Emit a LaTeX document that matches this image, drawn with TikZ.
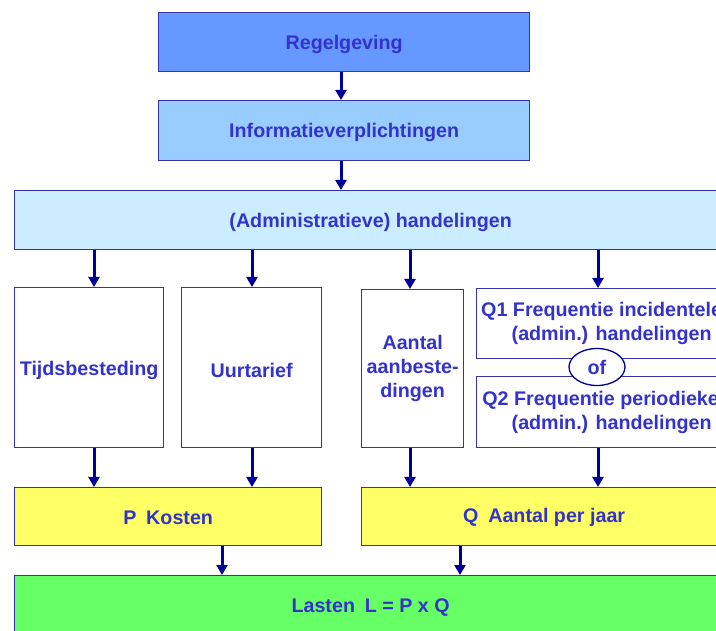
\documentclass[tikz,border=0pt]{standalone}
\usepackage{fontspec}
\setmainfont{Liberation Sans}
\usetikzlibrary{arrows.meta,shapes.geometric}
\definecolor{txtblue}{HTML}{3333CC}
\definecolor{arrblue}{HTML}{000099}
\definecolor{edgeblue}{HTML}{3333AA}
\definecolor{fillA}{HTML}{6699FF}
\definecolor{fillB}{HTML}{99CCFF}
\definecolor{fillC}{HTML}{CCECFF}
\definecolor{fillY}{HTML}{FFFF66}
\definecolor{fillG}{HTML}{66FF66}
\newcommand{\lowertxt}[2]{\raisebox{-#1}[\height][\depth]{#2}}
\tikzset{
  box/.style={draw=edgeblue, line width=1.3pt, anchor=north west, inner sep=0pt,
    text=txtblue, font=\fontsize{19.7}{24}\selectfont\bfseries, align=center},
  arr/.style={draw=arrblue, line width=3pt, -{Triangle[width=11pt,length=10pt]}},
}
\begin{document}
\begin{tikzpicture}[x=1pt,y=-1pt]
\useasboundingbox (0,0) rectangle (716,631);
\clip (0,0) rectangle (716,631);
\fill[white] (0,0) rectangle (716,631);
\node[box, fill=fillA, minimum width=371pt, minimum height=59pt] (reg) at (158,12) {\lowertxt{2pt}{Regelgeving}};
\node[box, fill=fillB, minimum width=371pt, minimum height=60pt] (inf) at (158,100) {\lowertxt{2pt}{Informatieverplichtingen}};
\node[box, fill=fillC, minimum width=712pt, minimum height=59pt] (adm) at (14,190) {\lowertxt{2pt}{(Administratieve) handelingen}};
\node[box, fill=white, minimum width=149pt, minimum height=160pt] (tijd) at (14,287) {\lowertxt{3pt}{Tijdsbesteding}};
\node[box, fill=white, minimum width=140pt, minimum height=160pt] (uur) at (181,287) {\lowertxt{3pt}{Uurtarief}};
\node[box, fill=white, minimum width=102pt, minimum height=158pt] (aant) at (361,289) {Aantal\\aanbeste-\\dingen};
\node[box, fill=white, minimum width=270pt, minimum height=70pt] (qa) at (476,288) {Q1 Frequentie incidentele\hspace*{20pt}\\(admin.) handelingen};
\node[box, fill=white, minimum width=270pt, minimum height=71pt] (qb) at (476,376) {Q2 Frequentie periodieke\hspace*{22pt}\\(admin.) handelingen};
\node[ellipse, draw=arrblue, line width=1.3pt, fill=white, inner sep=0pt, minimum width=56pt, minimum height=37pt,
  text=txtblue, font=\fontsize{19.7}{24}\selectfont\bfseries] (of) at (597,367) {of};
\node[box, fill=fillY, minimum width=307pt, minimum height=58pt] (p) at (14,487) {\lowertxt{1pt}{P\hspace{0.5em}Kosten}};
\node[box, fill=fillY, minimum width=365pt, minimum height=58pt] (q) at (361,487) {\lowertxt{1pt}{Q\hspace{0.5em}Aantal per jaar}};
\node[box, fill=fillG, minimum width=712pt, minimum height=70pt] (l) at (14,575) {\raisebox{11pt}{Lasten\hspace{0.5em}L = P x Q}};
\draw[arr] (reg.south -| 341,0) -- (inf.north -| 341,0);
\draw[arr] (inf.south -| 341,0) -- (adm.north -| 341,0);
\draw[arr] (adm.south -| 94,0) -- (tijd.north -| 94,0);
\draw[arr] (adm.south -| 252,0) -- (uur.north -| 252,0);
\draw[arr] (adm.south -| 410,0) -- (aant.north -| 410,0);
\draw[arr] (adm.south -| 598,0) -- (qa.north -| 598,0);
\draw[arr] (tijd.south -| 94,0) -- (p.north -| 94,0);
\draw[arr] (uur.south -| 252,0) -- (p.north -| 252,0);
\draw[arr] (aant.south -| 410,0) -- (q.north -| 410,0);
\draw[arr] (qb.south -| 598,0) -- (q.north -| 598,0);
\draw[arr] (p.south -| 222,0) -- (l.north -| 222,0);
\draw[arr] (q.south -| 460,0) -- (l.north -| 460,0);
\end{tikzpicture}
\end{document}
